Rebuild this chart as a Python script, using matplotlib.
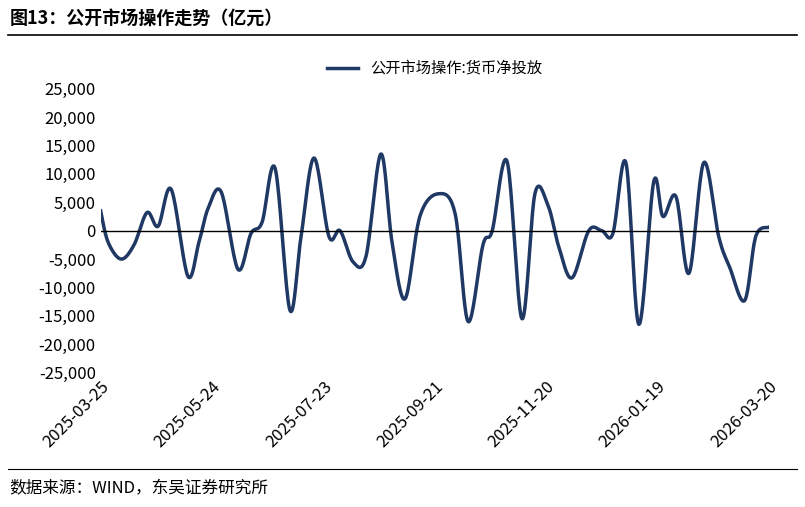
import numpy as np
import pandas as pd
import matplotlib
matplotlib.use("Agg")
import matplotlib.pyplot as plt
from matplotlib.lines import Line2D

plt.rcParams['font.family'] = ['Noto Sans CJK SC', 'DejaVu Sans']

start = pd.Timestamp("2025-03-25")
day_offsets = [0,4,11,18,25,31,38,47,53,58,65,74,81,87,94,102,108,115,123,129,136,143,151,157,164,172,182,191,198,206,211,219,227,234,241,247,254,263,270,276,283,290,298,303,310,317,325,333,339,347,353,360]
values = [3500,-2000,-5000,-2500,3200,800,7300,-8000,-2000,4000,6800,-6800,-500,1500,11000,-14000,-1000,12800,-1000,0,-5500,-4500,13500,-2000,-12000,2500,6500,3000,-16000,-2500,0,12200,-15500,6500,4500,-3000,-8300,0,0,-500,12000,-16500,8600,2500,6000,-7500,12000,-1000,-6500,-12300,-1000,600]
tick_labels = ["2025-03-25","2025-05-24","2025-07-23","2025-09-21","2025-11-20","2026-01-19","2026-03-20"]
series_name = "公开市场操作:货币净投放"

def catmull(x, y, n=20):
    x = np.asarray(x, float); y = np.asarray(y, float)
    px = np.concatenate([[x[0]], x, [x[-1]]]); py = np.concatenate([[y[0]], y, [y[-1]]])
    xs, ys = [], []
    t = np.linspace(0, 1, n, endpoint=False)
    for i in range(1, len(px) - 2):
        for arr, out in ((px, xs), (py, ys)):
            p0, p1, p2, p3 = arr[i-1], arr[i], arr[i+1], arr[i+2]
            out.append(0.5*((2*p1) + (-p0+p2)*t + (2*p0-5*p1+4*p2-p3)*t**2 + (-p0+3*p1-3*p2+p3)*t**3))
    xs.append([x[-1]]); ys.append([y[-1]])
    return np.concatenate(xs), np.concatenate(ys)

xs, ys = catmull(day_offsets, values)
color = "#1F3864"

fig = plt.figure(figsize=(8.05, 5.07), dpi=100)
ax = fig.add_axes([0.125, 0.265, 0.83, 0.56])
ax.plot(xs, ys, color=color, lw=2.5)
ax.set_xlim(0, 360)
ax.set_ylim(-25000, 25000)
ax.set_yticks(np.arange(-25000, 25001, 5000))
ax.set_yticklabels([f"{v:,}" for v in range(-25000, 25001, 5000)], fontsize=12)
tick_pos = [(pd.Timestamp(s) - start).days for s in tick_labels]
ax.set_xticks(tick_pos)
ax.set_xticklabels(tick_labels, rotation=45, ha='right', rotation_mode='anchor', fontsize=12)
for s in ['top', 'right', 'bottom']:
    ax.spines[s].set_visible(False)
ax.spines['left'].set_visible(False)
ax.axhline(0, color='black', lw=1)
ax.tick_params(axis='y', length=0)
ax.tick_params(axis='x', length=0, pad=4)
ax.legend([Line2D([], [], color=color, lw=2.5)], [series_name], loc='upper center',
          bbox_to_anchor=(0.5, 1.15), frameon=False, fontsize=11)

fig.text(0.012, 0.965, "图13：公开市场操作走势（亿元）", fontsize=13, fontweight='bold', va='center')
fig.add_artist(Line2D([0.01, 0.99], [0.93, 0.93], color='black', lw=1.2))
fig.add_artist(Line2D([0.01, 0.99], [0.075, 0.075], color='black', lw=0.8))
fig.text(0.012, 0.035, "数据来源：WIND，东吴证券研究所", fontsize=12, va='center')
fig.savefig("out.png", dpi=100)
